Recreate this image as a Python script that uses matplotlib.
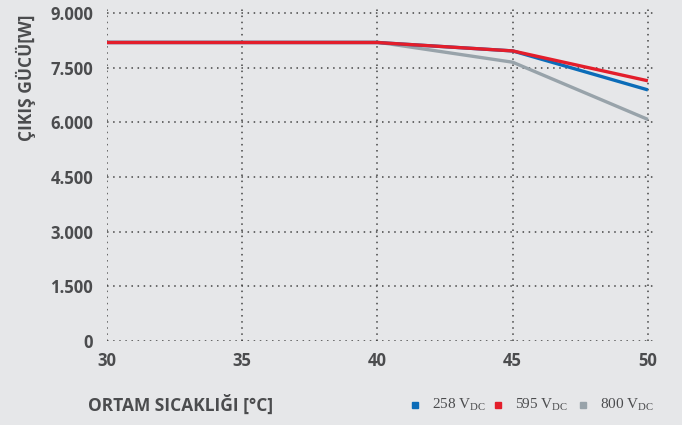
import numpy as np
import matplotlib.pyplot as plt
from matplotlib.lines import Line2D

plt.rcParams['mathtext.default'] = 'regular'

# data
temps = [30, 35, 40, 45, 50]
p_258 = [8190, 8190, 8190, 7960, 6890]
p_595 = [8190, 8190, 8190, 7960, 7140]
p_800 = [8200, 8200, 8200, 7650, 6080]
yticks = [0, 1500, 3000, 4500, 6000, 7500, 9000]
ytick_labels = ['0', '1.500', '3.000', '4.500', '6.000', '7.500', '9.000']
xticks = [30, 35, 40, 45, 50]
legend_labels = ['258 V$_{DC}$', '595 V$_{DC}$', '800 V$_{DC}$']
legend_colors = ['#0b6cb8', '#e31e2b', '#98a3aa']

series = [
    (p_800, '#98a3aa'),
    (p_258, '#0b6cb8'),
    (p_595, '#e31e2b'),
]

bg = '#e6e7e9'
txt = '#4b4c4e'
W, H = 682, 425

fig = plt.figure(figsize=(W / 100, H / 100), dpi=100, facecolor=bg)
ax = fig.add_axes([107 / W, (H - 341) / H, (656 - 107) / W, (341 - 7) / H])
ax.set_facecolor(bg)

for vals, col in series:
    ax.plot(temps, vals, color=col, lw=2.4, solid_capstyle='butt', zorder=3)

ax.set_xlim(30, 50.3)
ax.set_ylim(0, 9165)
ax.set_xticks(xticks)
ax.set_yticks(yticks)
ax.set_yticklabels(ytick_labels)
ax.grid(True, linestyle=(0, (1, 3)), color='#444444', lw=1.1)
for s in ax.spines.values():
    s.set_visible(False)
ax.tick_params(length=0, pad=10, labelcolor=txt)
ax.tick_params(axis='x', pad=8)
for t in ax.get_xticklabels() + ax.get_yticklabels():
    t.set_fontfamily('Open Sans')
    t.set_fontweight('bold')
    t.set_fontsize(12)

fig.text(26 / W, 1 - 78 / H, 'ÇIKIŞ GÜCÜ[W]', rotation=90, ha='center', va='center',
         fontfamily='Open Sans', fontweight='bold', fontsize=12.5, color=txt)
fig.text(88 / W, 1 - 405 / H, 'ORTAM SICAKLIĞI [°C]', ha='left', va='center',
         fontfamily='Open Sans', fontweight='bold', fontsize=12.5, color=txt)

# legend drawn by hand
mark_x = [415, 498, 583]
ly = 1 - 405 / H
for mx, lab, col in zip(mark_x, legend_labels, legend_colors):
    fig.add_artist(Line2D([mx / W], [ly], ls='none', marker='s', ms=5, color=col,
                          transform=fig.transFigure))
    fig.text((mx + 17) / W, ly, lab, ha='left', va='center', color=txt,
             fontfamily='Liberation Serif', fontsize=11)

fig.savefig('out.png', dpi=100, facecolor=bg)
